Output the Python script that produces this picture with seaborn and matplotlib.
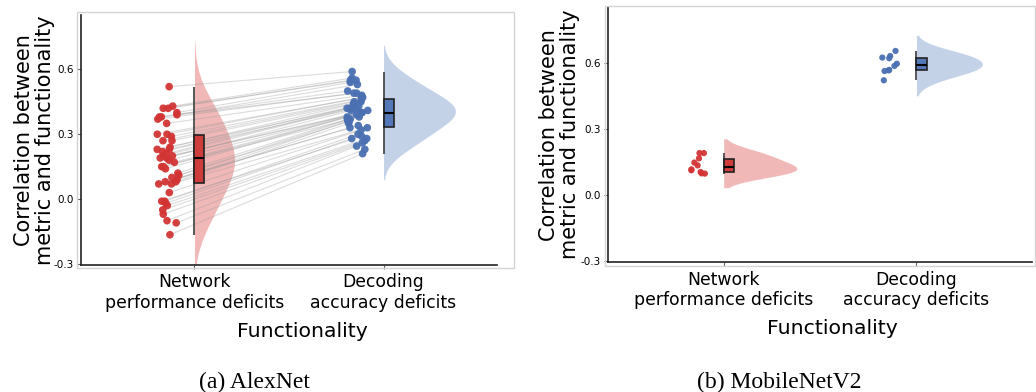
import numpy as np
import matplotlib
matplotlib.use("Agg")
import matplotlib.pyplot as plt
import seaborn as sns
import pandas as pd
from matplotlib.patches import Rectangle

np.random.seed(3)  # jitter reproducible

categories = ["Network\nperformance deficits", "Decoding\naccuracy deficits"]
captions = ["(a) AlexNet", "(b) MobileNetV2"]

# AlexNet: one value per layer/unit, paired between the two functionalities
alexnet_network = [0.52, 0.43, 0.42, 0.42, 0.40, 0.39, 0.38, 0.38, 0.37, 0.35,
                   0.30, 0.30, 0.29, 0.27, 0.27, 0.24, 0.23, 0.23, 0.22, 0.21,
                   0.20, 0.20, 0.19, 0.19, 0.18, 0.17, 0.15, 0.15, 0.14, 0.12,
                   0.11, 0.10, 0.09, 0.08, 0.08, 0.07, 0.07, 0.03, -0.01, -0.01,
                   -0.02, -0.03, -0.05, -0.07, -0.10, -0.11, -0.165]
alexnet_decoding = [0.59, 0.56, 0.55, 0.55, 0.54, 0.53, 0.50, 0.49, 0.49, 0.48,
                    0.47, 0.47, 0.46, 0.45, 0.45, 0.44, 0.43, 0.43, 0.42, 0.42,
                    0.42, 0.41, 0.41, 0.40, 0.40, 0.40, 0.39, 0.38, 0.38, 0.37,
                    0.37, 0.36, 0.36, 0.35, 0.34, 0.33, 0.33, 0.32, 0.30, 0.29,
                    0.28, 0.28, 0.27, 0.26, 0.245, 0.23, 0.21]

mobilenet_network = [0.19, 0.19, 0.166, 0.147, 0.134, 0.116, 0.112, 0.104, 0.098, 0.097]
mobilenet_decoding = [0.653, 0.63, 0.623, 0.62, 0.595, 0.585, 0.567, 0.565, 0.562, 0.52]

pt_colors = {"net": "#d23434", "dec": "#4a70b2"}
box_colors = {"net": "#cf3c3c", "dec": "#5578b9"}
violin_colors = {"_a": "white", "net": "#f1b8b8", "_b": "white", "dec": "#c4d2e8"}

sns.set_style("ticks")
plt.rcParams["font.family"] = ["DejaVu Sans"]
plt.rcParams["axes.unicode_minus"] = False
plt.rcParams["text.color"] = "black"
plt.rcParams["axes.labelcolor"] = "black"

fig = plt.figure(figsize=(10.36, 3.92), dpi=100)
ax1 = fig.add_axes([0.0782, 0.324, 0.4015, 0.638])
ax2 = fig.add_axes([0.5869, 0.331, 0.4093, 0.651])

# marcos grises claros alrededor de cada panel
fig.add_artist(Rectangle((77 / 1036, 1 - 268 / 392), 437 / 1036, 256 / 392,
                         transform=fig.transFigure, fill=False, edgecolor="#d4d4d4", lw=1))
fig.add_artist(Rectangle((605 / 1036, 1 - 266 / 392), 430 / 1036, 260 / 392,
                         transform=fig.transFigure, fill=False, edgecolor="#d4d4d4", lw=1))

VW = 0.38  # ancho máximo del medio violin


def raincloud(ax, net, dec, pt_size, jit, lines):
    pos = np.array([0.0] * len(net) + [1.0] * len(dec))
    vals = np.array(net + dec)
    grp = np.array(["net"] * len(net) + ["dec"] * len(dec))

    ##medio violin a la derecha de cada categoría
    sns.violinplot(x=pos + VW / 2, y=vals, hue=grp, hue_order=["_a", "net", "_b", "dec"],
                   palette=violin_colors, split=True, native_scale=True, inner=None,
                   linewidth=0, width=VW, density_norm="area", common_norm=True,
                   bw_adjust=1.4, cut=2, saturation=1, legend=False, ax=ax)

    n0 = len(ax.collections)
    sns.stripplot(x=pos - 0.14, y=vals, hue=grp, hue_order=["net", "dec"],
                  palette=pt_colors, native_scale=True, jitter=jit, size=pt_size,
                  linewidth=0, alpha=0.95, legend=False, ax=ax, zorder=4)
    strips = ax.collections[n0:]

    if lines:
        a = strips[0].get_offsets()
        b = strips[1].get_offsets()
        for p, q in zip(a, b):
            ax.plot([p[0], q[0]], [p[1], q[1]], color="#9a9a9a", alpha=0.35, lw=0.8, zorder=3)

    # whisker (min-max) como boxplot de ancho cero
    sns.boxplot(x=pos, y=vals, hue=grp, hue_order=["net", "dec"], palette=box_colors,
                native_scale=True, width=0.0001, whis=(0, 100), showfliers=False,
                showcaps=False, linecolor="#4a4a4a", linewidth=1.3, legend=False, ax=ax,
                zorder=5)
    sns.boxplot(x=pos + 0.0265, y=vals, hue=grp, hue_order=["net", "dec"], palette=box_colors,
                native_scale=True, width=0.053, whis=0, showfliers=False, showcaps=False,
                saturation=1, linecolor="#222222", linewidth=1.2,
                medianprops={"color": "black", "linewidth": 1.5},
                legend=False, ax=ax, zorder=6)

    ax.set_xlim(-0.6, 1.6)
    ax.set_ylim(-0.305, 0.852)
    ax.set_xticks([0, 1], categories)
    ax.set_yticks([-0.3, 0.0, 0.3, 0.6], ["-0.3", "0.0", "0.3", "0.6"])
    ax.tick_params(axis="y", labelsize=7.5, length=3, width=0.8, color="#666666", pad=2,
                   labelcolor="black")
    ax.tick_params(axis="x", labelsize=12.4, length=3, width=0.8, color="#666666", pad=3,
                   labelcolor="black")
    sns.despine(ax=ax)
    for s in ["left", "bottom"]:
        ax.spines[s].set_color("#222222")
        ax.spines[s].set_linewidth(1.2)
    ax.set_xlabel("Functionality", fontsize=14.7)
    ax.set_ylabel("Correlation between\nmetric and functionality", fontsize=15, linespacing=1.05)


raincloud(ax1, alexnet_network, alexnet_decoding, 5.5, 0.06, True)
raincloud(ax2, mobilenet_network, mobilenet_decoding, 4.5, 0.045, False)

ax1.xaxis.set_label_coords(0.531, -0.228)
ax2.xaxis.set_label_coords(0.529, -0.222)
ax1.yaxis.set_label_coords(-0.062, 0.5)
ax2.yaxis.set_label_coords(-0.066, 0.5)

fig.text(254.5 / 1036, 1 - 372 / 392, captions[0], family="Liberation Serif", fontsize=17,
         ha="center", va="top")
fig.text(779 / 1036, 1 - 372 / 392, captions[1], family="Liberation Serif", fontsize=17,
         ha="center", va="top")

fig.savefig("out.png", dpi=100)
